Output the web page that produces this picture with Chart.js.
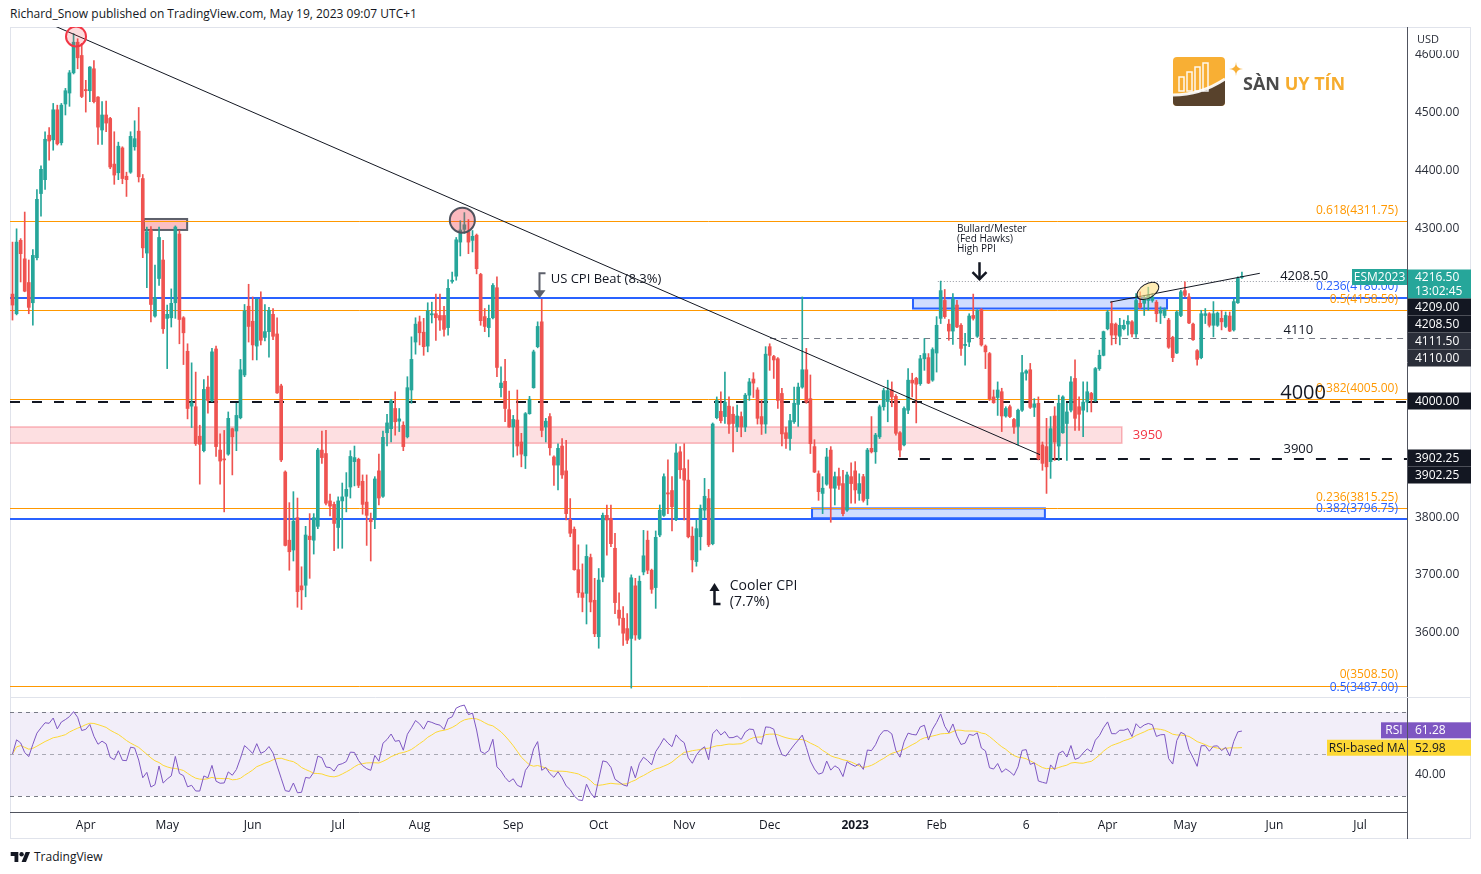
<!DOCTYPE html>
<html>
<head>
<meta charset="utf-8">
<title>ESM2023 daily</title>
<script src="https://cdn.jsdelivr.net/npm/chart.js@4/dist/chart.umd.min.js"></script>
<style>
  html, body { margin: 0; padding: 0; background: #fff; }
  body { width: 1481px; height: 874px; position: relative; overflow: hidden;
         font-family: "Open Sans", sans-serif; color: #131722; }
  #head { position: absolute; left: 10px; top: 5px; font-size: 12px; }
  #frame { position: absolute; left: 10px; top: 27px; width: 1461px; height: 812px;
           border: 1px solid #e0e3eb; box-sizing: border-box; }
  .pane { position: absolute; left: 10px; width: 1461px; }
  #mainPane { top: 27px; height: 670px; }
  #rsiPane { top: 697px; height: 143px; }
  #axisTail { position: absolute; left: 1407px; top: 812px; width: 1px; height: 27px; background: #50535e; }
  #tv { position: absolute; left: 10px; top: 848px; font-size: 12px; display: flex; align-items: center; gap: 3px; }
</style>
</head>
<body>
<div id="head">Richard_Snow published on TradingView.com, May 19, 2023 09:07 UTC+1</div>
<div id="frame"></div>
<div class="pane" id="mainPane"><canvas id="mainChart"></canvas></div>
<div class="pane" id="rsiPane"><canvas id="rsiChart"></canvas></div>
<div id="axisTail"></div>
<div id="tv">
  <svg width="21" height="12" viewBox="0 0 36 22"><path d="M14 20H7V9H0V2h14v18z" fill="#131722"/><circle cx="20" cy="6" r="4" fill="#131722"/><path d="M28 20h-8l7.5-18h8z" fill="#131722"/></svg>
  <span>TradingView</span>
</div>

<script>
// ---- ESM2023 daily candles, 8 Mar 2022 .. 19 May 2023 ----
const opens = [
  4186,4152,4279,4247,4206,4171,4249,4360,4384,4461,
  4453,4505,4448,4515,4534,4569,4622,4599,4540,4538,
  4576,4527,4470,4496,4490,4411,4396,4439,4390,4397,
  4441,4468,4386,4257,4297,4148,4213,4245,4144,4145,
  4171,4290,4145,4087,3992,3991,3940,3915,4025,4002,
  4091,3916,3900,3909,3953,3949,3972,4046,4165,4139,
  4096,4177,4111,4121,4151,4117,4027,3878,3760,3743,
  3799,3681,3682,3767,3760,3784,3916,3910,3828,3822,
  3782,3828,3836,3852,3896,3900,3862,3826,3797,3798,
  3880,3836,3946,3953,3988,3966,3959,3939,4020,4103,
  4138,4120,4096,4150,4152,4149,4149,4128,4208,4217,
  4276,4298,4294,4279,4288,4220,4147,4128,4145,4197,
  4024,4035,3986,3956,3968,3930,3906,3979,4024,4095,
  4138,3956,3974,3904,3890,3923,3880,3796,3779,3709,
  3669,3668,3730,3656,3593,3696,3803,3798,3746,3639,
  3625,3607,3590,3681,3590,3705,3760,3708,3678,3769,
  3803,3842,3846,3796,3913,3884,3864,3767,3723,3766,
  3812,3832,3754,3972,3983,3974,3992,3978,3956,3974,
  3956,4011,4039,4020,3974,3961,4095,4078,4074,4014,
  3946,3936,3965,3995,4025,4055,4005,3922,3875,3841,
  3857,3916,3850,3870,3858,3812,3870,3880,3841,3870,
  3832,3919,3913,3939,3991,4000,4020,4009,3946,3925,
  3985,4037,4040,4031,4074,4076,4037,4084,4144,4175,
  4134,4122,4167,4132,4097,4103,4149,4113,4159,4096,
  4083,4008,4007,4017,3975,3991,3969,3957,3985,4049,
  4055,3990,3997,3925,3922,3896,3975,3923,3946,3962,
  3985,4040,3991,3985,3999,4014,4002,4057,4080,4126,
  4135,4134,4113,4126,4134,4138,4117,4170,4170,4175,
  4175,4172,4153,4149,4141,4111,4084,4149,4192,4181,
  4134,4088,4076,4149,4152,4132,4132,4144,4130,4148,
  4124,4171,4215
];
const highs = [
  4276,4299,4282,4328,4245,4263,4367,4408,4467,4474,
  4516,4513,4516,4542,4573,4637,4628,4620,4556,4580,
  4590,4528,4519,4520,4492,4467,4449,4441,4397,4467,
  4486,4509,4393,4302,4303,4236,4302,4279,4167,4195,
  4304,4296,4147,4100,4067,4051,3959,4038,4044,4092,
  4096,3944,3950,3982,3954,3997,4073,4168,4203,4181,
  4178,4190,4168,4163,4161,4145,4030,3880,3825,3844,
  3833,3714,3784,3806,3806,3919,3949,3950,3840,3826,
  3835,3859,3877,3915,3923,3902,3873,3873,3807,3870,
  3909,3949,3978,4004,4017,3988,3965,4043,4112,4145,
  4148,4144,4171,4172,4186,4186,4165,4211,4224,4284,
  4313,4327,4315,4296,4290,4222,4161,4167,4204,4216,
  4060,4073,4018,3976,4020,3945,3981,4009,4089,4138,
  4177,3971,3979,3906,3927,3936,3933,3832,3783,3752,
  3719,3752,3736,3694,3711,3807,3821,3821,3772,3669,
  3645,3633,3700,3694,3698,3777,3776,3710,3776,3821,
  3875,3899,3870,3927,3922,3927,3899,3783,3795,3821,
  3867,3848,3963,4008,4017,4051,4008,3991,3994,3982,
  4014,4040,4050,4024,4002,4095,4100,4080,4076,4023,
  3956,3978,4025,4032,4181,4092,4046,3934,3880,3870,
  3919,3922,3878,3885,3881,3878,3894,3896,3875,3874,
  3919,3974,3945,3994,4023,4037,4034,4012,3948,3991,
  4057,4049,4042,4080,4109,4083,4093,4147,4208.5,4194,
  4142,4187,4175,4135,4118,4152,4186,4159,4161,4098,
  4085,4020,4034,4023,3991,3994,3971,3987,4080,4055,
  4066,4005,4008,3930,3971,3974,3991,4011,4010,3997,
  4043,4072,4008,4034,4034,4016,4059,4089,4122,4158,
  4173,4136,4144,4141,4149,4140,4187,4190,4184,4198,
  4187,4175,4164,4162,4144,4113,4157,4193,4207,4187,
  4136,4090,4158,4161,4154,4173,4155,4158,4155,4155,
  4178,4216,4224
];
const lows = [
  4141,4150,4207,4190,4152,4132,4245,4321,4367,4418,
  4435,4444,4444,4496,4511,4567,4576,4526,4501,4519,
  4517,4445,4445,4467,4403,4376,4384,4377,4355,4395,
  4435,4380,4249,4197,4138,4146,4201,4118,4057,4129,
  4144,4100,4064,3970,3955,3924,3857,3913,3980,4000,
  3905,3857,3809,3907,3873,3915,3970,4043,4103,4072,
  4072,4098,4105,4077,4107,4014,3896,3750,3708,3724,
  3644,3640,3662,3694,3736,3780,3893,3821,3802,3742,
  3746,3746,3809,3833,3854,3851,3805,3751,3724,3780,
  3821,3834,3923,3930,3942,3948,3915,3937,3997,4082,
  4098,4080,4086,4136,4106,4123,4113,4115,4205,4210,
  4252,4291,4256,4259,4221,4132,4121,4112,4143,4043,
  4008,3965,3955,3904,3907,3887,3884,3978,4023,4093,
  3939,3930,3907,3855,3847,3867,3795,3766,3708,3661,
  3636,3615,3636,3593,3573,3688,3734,3749,3633,3613,
  3578,3581,3504,3587,3588,3700,3702,3668,3642,3766,
  3801,3806,3776,3794,3867,3795,3764,3705,3715,3743,
  3798,3749,3752,3970,3963,3962,3945,3913,3948,3939,
  3948,4002,4007,3961,3943,3945,4054,4040,3988,3923,
  3919,3916,3962,3957,4023,3997,3910,3877,3829,3806,
  3855,3791,3821,3848,3802,3810,3824,3824,3829,3826,
  3821,3911,3893,3936,3985,3965,3991,3942,3904,3923,
  3979,4008,3963,4028,4054,4031,4035,4051,4135,4144,
  4106,4099,4128,4080,4063,4095,4141,4111,4096,4057,
  4002,3997,3976,3948,3973,3972,3945,3925,3983,4037,
  3988,3974,3899,3881,3841,3867,3898,3898,3945,3898,
  3982,3950,3950,3939,3982,3982,4000,4054,4079,4124,
  4098,4100,4098,4124,4115,4112,4111,4161,4149,4158,
  4172,4138,4135,4145,4092,4069,4083,4147,4181,4135,
  4106,4063,4074,4135,4129,4112,4130,4124,4128,4121,
  4122,4170,4213
];
const closes = [
  4167,4276,4256,4191,4163,4253,4350,4402,4454,4451,
  4505,4446,4513,4538,4569,4622,4595,4528,4538,4579,
  4519,4475,4496,4482,4406,4392,4442,4386,4384,4459,
  4455,4389,4266,4294,4168,4180,4284,4126,4151,4170,
  4302,4142,4119,3988,3998,3927,3926,4021,4002,4086,
  3922,3897,3899,3971,3939,3976,4055,4157,4130,4098,
  4177,4106,4121,4158,4113,4015,3899,3751,3740,3793,
  3671,3674,3769,3761,3799,3916,3903,3824,3819,3789,
  3828,3835,3848,3905,3903,3855,3822,3803,3792,3866,
  3833,3938,3963,4001,3965,3970,3922,4024,4073,4134,
  4119,4095,4157,4152,4145,4141,4125,4196,4210,4280,
  4297,4306,4276,4286,4230,4140,4130,4144,4201,4059,
  4032,3988,3956,3969,3923,3909,3979,4004,4086,4130,
  3950,3966,3920,3890,3919,3873,3806,3772,3709,3669,
  3661,3732,3653,3598,3691,3803,3795,3754,3652,3625,
  3599,3587,3695,3596,3689,3733,3708,3675,3765,3812,
  3870,3840,3818,3911,3882,3864,3766,3726,3780,3815,
  3836,3752,3961,4002,3967,3999,3961,3962,3975,3956,
  4011,4034,4032,3971,3961,4082,4080,4072,4002,3944,
  3936,3967,3997,4025,4055,3999,3927,3878,3844,3850,
  3904,3850,3870,3855,3806,3873,3858,3847,3858,3829,
  3916,3913,3942,3991,4019,4019,4008,3945,3916,3988,
  4037,4032,4030,4074,4083,4032,4090,4132,4192,4147,
  4122,4178,4129,4092,4099,4148,4144,4158,4098,4086,
  4005,3998,4020,3975,3988,3974,3956,3985,4050,4053,
  3990,3996,3901,3893,3887,3953,3930,3997,4008,3982,
  4034,3971,3978,3999,4017,4005,4057,4080,4121,4155,
  4115,4115,4132,4132,4139,4117,4175,4163,4177,4184,
  4181,4152,4158,4159,4094,4076,4155,4190,4184,4136,
  4107,4073,4152,4152,4132,4152,4153,4138,4149,4122,
  4173,4213,4216.5
];

// x axis: candle index of first session of each month
const monthTickIdx = [18, 38, 59, 80, 100, 123, 144, 165, 186, 207, 227, 249, 269, 288, 310, 331];
const monthLabels = ['Apr', 'May', 'Jun', 'Jul', 'Aug', 'Sep', 'Oct', 'Nov', 'Dec', '2023', 'Feb', '6', 'Apr', 'May', 'Jun', 'Jul'];
const priceTicks = [4600, 4500, 4400, 4300, 3800, 3700, 3600];
const rsiTicks = [40];
const RSI_LEN = 14;
const RSI_MA_LEN = 14;

// ---- drawings on the price pane (index, price) ----
const fibLines = [
  { p: 4311.75, text: '0.618(4311.75)', kind: 'o' },
  { p: 4180.00, text: '0.236(4180.00)', kind: 'b' },
  { p: 4158.50, text: '0.5(4158.50)', kind: 'o' },
  { p: 4005.00, text: '0.382(4005.00)', kind: 'o' },
  { p: 3815.25, text: '0.236(3815.25)', kind: 'o' },
  { p: 3796.75, text: '0.382(3796.75)', kind: 'b' },
  { p: 3508.50, text: '0(3508.50)', kind: 'o' },
  { p: 3487.00, text: '0.5(3487.00)', kind: 'b' }
];
const levelLines = [
  { p: 4000, from: -2, style: 'bold' },
  { p: 3900, from: 217.5, style: 'bold' },
  { p: 4110, from: 186.1, style: 'thin' },
  { p: 4208.5, from: 227.3, style: 'dot' }
];
const levelTexts = [
  { text: '4208.50', i: 311.4, p: 4208.5, size: 13, lift: 1 },
  { text: '4110', i: 312.2, p: 4110, size: 13, lift: 4 },
  { text: '4000', i: 311.4, p: 4000, size: 20, lift: 3 },
  { text: '3900', i: 312.2, p: 3900, size: 13, lift: 6 }
];
const zones = [
  { from: -2, to: 272.5, hi: 3956, lo: 3928, kind: 'pinkBand' },
  { from: 32.3, to: 42.9, hi: 4316, lo: 4297, kind: 'pinkBox' },
  { from: 221.2, to: 283.6, hi: 4179, lo: 4161, kind: 'blue' },
  { from: 196.4, to: 253.6, hi: 3815, lo: 3798, kind: 'blue' }
];
const trendLines = [
  { i1: 10.4, p1: 4650, i2: 252.4, p2: 3908 },
  { i1: 269.6, p1: 4172, i2: 306.4, p2: 4222 }
];
const circles = [
  { i: 15.6, p: 4632, r: 10, kind: 'red' },
  { i: 110.5, p: 4314, r: 12.5, kind: 'grey' }
];

const UP = '#26a69a', DOWN = '#ef5350';
const ORANGE = '#ff9800', BLUE = '#2962ff';
const FONT = '"Open Sans", sans-serif';
const X_MIN = -0.614, X_MAX = 342.55;
const P_MIN = 3488.6, P_MAX = 4648.3;
const R_MIN = 22.38, R_MAX = 77.14;

// ---- RSI (Wilder) and its SMA, from the closes ----
// no history before the first candle, so the averages start neutral
function wilderRsi(src, n) {
  const moves = src.slice(1, n + 1).map((v, i) => Math.abs(v - src[i]));
  let ag = moves.reduce((s, q) => s + q, 0) / moves.length / 2;
  let al = ag;
  const out = [50];
  for (let i = 1; i < src.length; i++) {
    const d = src[i] - src[i - 1];
    ag = (ag * (n - 1) + Math.max(d, 0)) / n;
    al = (al * (n - 1) + Math.max(-d, 0)) / n;
    out.push(al === 0 ? 100 : 100 - 100 / (1 + ag / al));
  }
  return out;
}
function sma(src, n) {
  return src.map((v, i) => {
    const win = src.slice(Math.max(0, i - n + 1), i + 1);
    return win.reduce((s, q) => s + q, 0) / win.length;
  });
}
const rsiVals = wilderRsi(closes, RSI_LEN);
const rsiMa = sma(rsiVals, RSI_MA_LEN);

// ---- helpers ----
function hline(ctx, x1, x2, y, color, width, dash) {
  const yy = width % 2 ? Math.round(y) + 0.5 : Math.round(y);
  ctx.save();
  ctx.strokeStyle = color; ctx.lineWidth = width; ctx.setLineDash(dash || []);
  ctx.beginPath(); ctx.moveTo(x1, yy); ctx.lineTo(x2, yy); ctx.stroke();
  ctx.restore();
}
function tag(ctx, x, w, yc, h, bg, lines, color) {
  ctx.fillStyle = bg;
  ctx.fillRect(x, yc - h / 2, w, h);
  ctx.fillStyle = color || '#fff';
  ctx.font = '12px ' + FONT;
  ctx.textAlign = 'left'; ctx.textBaseline = 'middle';
  if (lines.length === 1) ctx.fillText(lines[0], x + 7, yc + 0.5);
  else { ctx.fillText(lines[0], x + 7, yc - 6.5); ctx.fillText(lines[1], x + 7, yc + 7.5); }
}
// keep the plot area flush with the canvas edges
function fitRight(s) { s.width = 64; s.paddingTop = 0; s.paddingBottom = 0; }

// ---- overlay for the price pane ----
const priceOverlay = {
  id: 'priceOverlay',
  beforeDatasetsDraw(chart) {
    const { ctx, chartArea: a, scales: { x, y } } = chart;
    const X = v => x.getPixelForValue(v), Y = v => y.getPixelForValue(v);
    ctx.save();
    ctx.beginPath(); ctx.rect(a.left, a.top, a.right - a.left, a.bottom - a.top); ctx.clip();

    zones.forEach(z => {
      const x1 = X(z.from), x2 = X(z.to), y1 = Y(z.hi), y2 = Y(z.lo);
      if (z.kind === 'pinkBand') { ctx.fillStyle = 'rgba(242,54,69,0.16)'; ctx.strokeStyle = 'rgba(242,54,69,0.35)'; ctx.lineWidth = 1.5; }
      else if (z.kind === 'pinkBox') { ctx.fillStyle = 'rgba(242,54,69,0.32)'; ctx.strokeStyle = '#5d606b'; ctx.lineWidth = 2; }
      else { ctx.fillStyle = 'rgba(41,98,255,0.22)'; ctx.strokeStyle = BLUE; ctx.lineWidth = 2; }
      ctx.fillRect(x1, y1, x2 - x1, y2 - y1);
      ctx.strokeRect(x1, y1, x2 - x1, y2 - y1);
    });

    fibLines.forEach(f => {
      hline(ctx, a.left, a.right, Y(f.p), f.kind === 'b' ? BLUE : ORANGE, f.kind === 'b' ? 2 : 1);
    });
    levelLines.forEach(l => {
      const x1 = Math.max(a.left, X(l.from));
      if (l.style === 'bold') hline(ctx, x1, a.right, Y(l.p), '#131722', 2, [10, 12]);
      else if (l.style === 'thin') hline(ctx, x1, a.right, Y(l.p), '#787b86', 1, [6, 5]);
      else hline(ctx, x1, a.right, Y(l.p), '#9598a1', 1, [1, 2]);
    });
    ctx.restore();
  },
  afterDatasetsDraw(chart) {
    const { ctx, chartArea: a, scales: { x, y } } = chart;
    const X = v => x.getPixelForValue(v), Y = v => y.getPixelForValue(v);
    ctx.save();
    ctx.beginPath(); ctx.rect(a.left, a.top, a.right - a.left, a.bottom - a.top); ctx.clip();

    // trend lines
    ctx.strokeStyle = '#131722'; ctx.lineWidth = 1;
    trendLines.forEach(t => {
      ctx.beginPath(); ctx.moveTo(X(t.i1), Y(t.p1)); ctx.lineTo(X(t.i2), Y(t.p2)); ctx.stroke();
    });

    // circles
    circles.forEach(c => {
      ctx.beginPath(); ctx.arc(X(c.i), Y(c.p), c.r, 0, Math.PI * 2);
      ctx.fillStyle = c.kind === 'red' ? 'rgba(242,54,69,0.18)' : 'rgba(242,54,69,0.35)';
      ctx.fill();
      ctx.lineWidth = 2; ctx.strokeStyle = c.kind === 'red' ? '#f23645' : '#50535e';
      ctx.stroke();
    });
    // ellipse at the breakout
    ctx.save();
    ctx.translate(X(278.9), Y(4191.5)); ctx.rotate(-0.55);
    ctx.beginPath(); ctx.ellipse(0, 0, 12, 7, 0, 0, Math.PI * 2);
    ctx.fillStyle = 'rgba(255,224,130,0.6)'; ctx.fill();
    ctx.lineWidth = 1; ctx.strokeStyle = '#131722'; ctx.stroke();
    ctx.restore();

    // fib labels
    ctx.font = '12px ' + FONT; ctx.textAlign = 'right'; ctx.textBaseline = 'middle';
    fibLines.forEach(f => {
      ctx.fillStyle = f.kind === 'b' ? BLUE : ORANGE;
      ctx.fillText(f.text, a.right - 9, Y(f.p) - 10.5);
    });

    // level texts
    ctx.textAlign = 'left'; ctx.textBaseline = 'alphabetic'; ctx.fillStyle = '#131722';
    levelTexts.forEach(t => {
      ctx.font = t.size + 'px ' + FONT;
      ctx.fillText(t.text, X(t.i), Y(t.p) - t.lift);
    });
    ctx.font = '13px ' + FONT; ctx.fillStyle = '#f23645'; ctx.textBaseline = 'middle';
    ctx.fillText('3950', X(275.2), Y(3942));

    // US CPI beat arrow (down)
    let ax = Math.round(X(129.3)) + 0.5, ay = Y(4179);
    ctx.strokeStyle = '#5d606b'; ctx.fillStyle = '#5d606b'; ctx.lineWidth = 2;
    ctx.beginPath(); ctx.moveTo(ax + 6, ay - 25); ctx.lineTo(ax, ay - 25); ctx.lineTo(ax, ay - 6); ctx.stroke();
    ctx.beginPath(); ctx.moveTo(ax - 6, ay - 8); ctx.lineTo(ax + 6, ay - 8); ctx.lineTo(ax, ay); ctx.closePath(); ctx.fill();
    ctx.fillStyle = '#131722'; ctx.font = '13px ' + FONT; ctx.textBaseline = 'middle'; ctx.textAlign = 'left';
    ctx.fillText('US CPI Beat (8.3%)', X(132.2), Y(4212));

    // Cooler CPI arrow (up)
    ax = Math.round(X(172.3)) + 0.5; ay = Y(3686);
    ctx.strokeStyle = '#131722'; ctx.fillStyle = '#131722'; ctx.lineWidth = 2.5;
    ctx.beginPath(); ctx.moveTo(ax, ay + 6); ctx.lineTo(ax, ay + 21); ctx.lineTo(ax + 6, ay + 21); ctx.stroke();
    ctx.beginPath(); ctx.moveTo(ax - 5, ay + 8); ctx.lineTo(ax + 5, ay + 8); ctx.lineTo(ax, ay); ctx.closePath(); ctx.fill();
    ctx.font = '14px ' + FONT;
    ctx.fillText('Cooler CPI', X(176.2), Y(3681));
    ctx.fillText('(7.7%)', X(176.2), Y(3653));

    // Bullard / Mester arrow (down)
    ax = Math.round(X(237.4)) + 0.5; ay = Y(4210);
    ctx.lineWidth = 2.5;
    ctx.beginPath(); ctx.moveTo(ax, ay - 18); ctx.lineTo(ax, ay - 1); ctx.stroke();
    ctx.beginPath(); ctx.moveTo(ax - 7, ay - 8); ctx.lineTo(ax, ay - 1); ctx.lineTo(ax + 7, ay - 8); ctx.stroke();
    ctx.font = '10px ' + FONT;
    ['Bullard/Mester', '(Fed Hawks)', 'High PPI'].forEach((s, k) => ctx.fillText(s, X(232), Y(4298) + k * 10));
    ctx.restore();
  },
  afterDraw(chart) {
    const { ctx, chartArea: a } = chart;
    ctx.save();
    // currency title over the top tick
    ctx.fillStyle = '#fff'; ctx.fillRect(a.right + 2, 4, 60, 19);
    ctx.fillStyle = '#2a2e39'; ctx.font = '11px ' + FONT; ctx.textAlign = 'left'; ctx.textBaseline = 'middle';
    ctx.fillText('USD', a.right + 10, 13);

    // right-scale tags (page y minus pane top)
    const L = a.right + 1, W = 63;
    ctx.fillStyle = UP; ctx.fillRect(a.right - 55, 242, 55, 16);
    ctx.fillStyle = '#fff'; ctx.font = '12px ' + FONT; ctx.textAlign = 'center';
    ctx.fillText('ESM2023', a.right - 27.5, 250.5);
    tag(ctx, L, W, 257, 29, UP, ['4216.50', '13:02:45']);
    tag(ctx, L, W, 280, 17, '#131722', ['4209.00']);
    tag(ctx, L, W, 297, 17, '#131722', ['4208.50']);
    tag(ctx, L, W, 314, 17, '#2a2e39', ['4111.50']);
    tag(ctx, L, W, 331, 17, '#2a2e39', ['4110.00']);
    tag(ctx, L, W, 374, 17, '#131722', ['4000.00']);
    tag(ctx, L, W, 431, 17, '#131722', ['3902.25']);
    tag(ctx, L, W, 448, 17, '#131722', ['3902.25']);

    // watermark logo
    ctx.globalAlpha = 0.92;
    const lx = 1163, ly = 30;
    ctx.beginPath(); ctx.roundRect(lx, ly, 52, 49, 4); ctx.fillStyle = '#f7a823'; ctx.fill();
    ctx.save(); ctx.clip();
    ctx.beginPath(); ctx.moveTo(lx, ly + 49); ctx.lineTo(lx, ly + 38); ctx.quadraticCurveTo(lx + 28, ly + 38, lx + 52, ly + 22);
    ctx.lineTo(lx + 52, ly + 49); ctx.closePath(); ctx.fillStyle = '#4b3a2c'; ctx.fill();
    ctx.beginPath(); ctx.moveTo(lx, ly + 38); ctx.quadraticCurveTo(lx + 28, ly + 38, lx + 52, ly + 22);
    ctx.strokeStyle = '#fff'; ctx.lineWidth = 3; ctx.stroke();
    ctx.restore();
    ctx.strokeStyle = '#fff'; ctx.lineWidth = 1.5;
    [[6, 14], [14, 19], [22, 24], [30, 28]].forEach(([dx, h]) => ctx.strokeRect(lx + dx, ly + 34 - h, 5, h));
    // sparkle
    const sx = lx + 63, sy = ly + 12;
    ctx.beginPath();
    ctx.moveTo(sx, sy - 7); ctx.quadraticCurveTo(sx, sy, sx + 7, sy); ctx.quadraticCurveTo(sx, sy, sx, sy + 7);
    ctx.quadraticCurveTo(sx, sy, sx - 7, sy); ctx.quadraticCurveTo(sx, sy, sx, sy - 7);
    ctx.fillStyle = '#f7a823'; ctx.fill();
    ctx.font = 'bold 18px ' + FONT; ctx.textAlign = 'left'; ctx.textBaseline = 'middle';
    ctx.fillStyle = '#3b3b3b'; ctx.fillText('SÀN', lx + 70, ly + 28);
    const sw = ctx.measureText('SÀN ').width;
    ctx.fillStyle = '#f5a51c'; ctx.fillText('UY TÍN', lx + 70 + sw, ly + 28);
    ctx.restore();
  }
};

// ---- overlay for the RSI pane ----
const rsiOverlay = {
  id: 'rsiOverlay',
  beforeDatasetsDraw(chart) {
    const { ctx, chartArea: a, scales: { y } } = chart;
    ctx.save();
    ctx.fillStyle = 'rgba(126,87,194,0.1)';
    ctx.fillRect(a.left, y.getPixelForValue(70), a.right - a.left, y.getPixelForValue(30) - y.getPixelForValue(70));
    hline(ctx, a.left, a.right, y.getPixelForValue(70), '#787b86', 1, [4, 4]);
    hline(ctx, a.left, a.right, y.getPixelForValue(50), 'rgba(120,123,134,0.6)', 1, [4, 4]);
    hline(ctx, a.left, a.right, y.getPixelForValue(30), '#787b86', 1, [4, 4]);
    ctx.restore();
  },
  afterDraw(chart) {
    const { ctx, chartArea: a, scales: { y } } = chart;
    ctx.save();
    hline(ctx, 0, chart.width, 0, '#e0e3eb', 1);
    const yR = y.getPixelForValue(61.28), yM = y.getPixelForValue(52.98);
    ctx.fillStyle = '#7e57c2'; ctx.fillRect(a.right - 26, yR - 8, 26, 16);
    ctx.fillStyle = '#fff'; ctx.font = '12px ' + FONT; ctx.textAlign = 'center'; ctx.textBaseline = 'middle';
    ctx.fillText('RSI', a.right - 13, yR + 0.5);
    tag(ctx, a.right + 1, 63, yR, 16, '#7e57c2', ['61.28']);
    ctx.fillStyle = '#fdd835'; ctx.fillRect(a.right - 80, yM - 8, 80, 16);
    ctx.fillStyle = '#131722'; ctx.font = '12px ' + FONT; ctx.textAlign = 'center'; ctx.textBaseline = 'middle';
    ctx.fillText('RSI-based MA', a.right - 40, yM + 0.5);
    tag(ctx, a.right + 1, 63, yM, 16, '#fdd835', ['52.98'], '#131722');
    ctx.restore();
  }
};

Chart.defaults.font.family = FONT;
Chart.defaults.font.size = 12;
Chart.defaults.color = '#2a2e39';

const idx = closes.map((_, i) => i);
const candleColors = idx.map(i => (closes[i] >= opens[i] ? UP : DOWN));

new Chart(document.getElementById('mainChart'), {
  type: 'bar',
  data: {
    datasets: [
      { data: idx.map(i => ({ x: i, y: [opens[i], closes[i]] })), backgroundColor: candleColors,
        barThickness: 3, minBarLength: 1, grouped: false, borderWidth: 0 },
      { data: idx.map(i => ({ x: i, y: [lows[i], highs[i]] })), backgroundColor: candleColors,
        barThickness: 1, grouped: false, borderWidth: 0 }
    ]
  },
  options: {
    responsive: true, maintainAspectRatio: false, animation: false,
    layout: { padding: 0 },
    plugins: { legend: { display: false }, tooltip: { enabled: false } },
    scales: {
      x: { type: 'linear', min: X_MIN, max: X_MAX, offset: false, display: false },
      y: {
        position: 'right', min: P_MIN, max: P_MAX, beginAtZero: false,
        grid: { display: false, drawTicks: false },
        border: { display: true, color: '#50535e' },
        afterBuildTicks: s => { s.ticks = priceTicks.map(v => ({ value: v })); },
        afterFit: fitRight,
        ticks: { padding: 8, color: '#2a2e39', callback: v => Number(v).toFixed(2) }
      }
    }
  },
  plugins: [priceOverlay]
});

new Chart(document.getElementById('rsiChart'), {
  type: 'line',
  data: {
    datasets: [
      { data: idx.map(i => ({ x: i, y: rsiVals[i] })), borderColor: '#7e57c2', borderWidth: 1,
        pointRadius: 0, tension: 0 },
      { data: idx.map(i => ({ x: i, y: rsiMa[i] })), borderColor: '#fdd835', borderWidth: 1,
        pointRadius: 0, tension: 0 }
    ]
  },
  options: {
    responsive: true, maintainAspectRatio: false, animation: false,
    layout: { padding: 0 },
    plugins: { legend: { display: false }, tooltip: { enabled: false } },
    scales: {
      x: {
        type: 'linear', min: X_MIN, max: X_MAX, offset: false,
        grid: { display: false, drawTicks: false },
        border: { display: true, color: '#50535e' },
        afterBuildTicks: s => { s.ticks = monthTickIdx.map(v => ({ value: v })); },
        afterFit: s => { s.height = 28; s.paddingLeft = 0; s.paddingRight = 0; },
        ticks: {
          autoSkip: false, maxRotation: 0, padding: 6, color: '#131722',
          font: c => ({ size: 12, weight: c.index === 9 ? 'bold' : 'normal' }),
          callback: (v, i) => monthLabels[i]
        }
      },
      y: {
        position: 'right', min: R_MIN, max: R_MAX,
        grid: { display: false, drawTicks: false },
        border: { display: true, color: '#50535e' },
        afterBuildTicks: s => { s.ticks = rsiTicks.map(v => ({ value: v })); },
        afterFit: fitRight,
        ticks: { padding: 8, color: '#2a2e39', callback: v => Number(v).toFixed(2) }
      }
    }
  },
  plugins: [rsiOverlay]
});
</script>
</body>
</html>
